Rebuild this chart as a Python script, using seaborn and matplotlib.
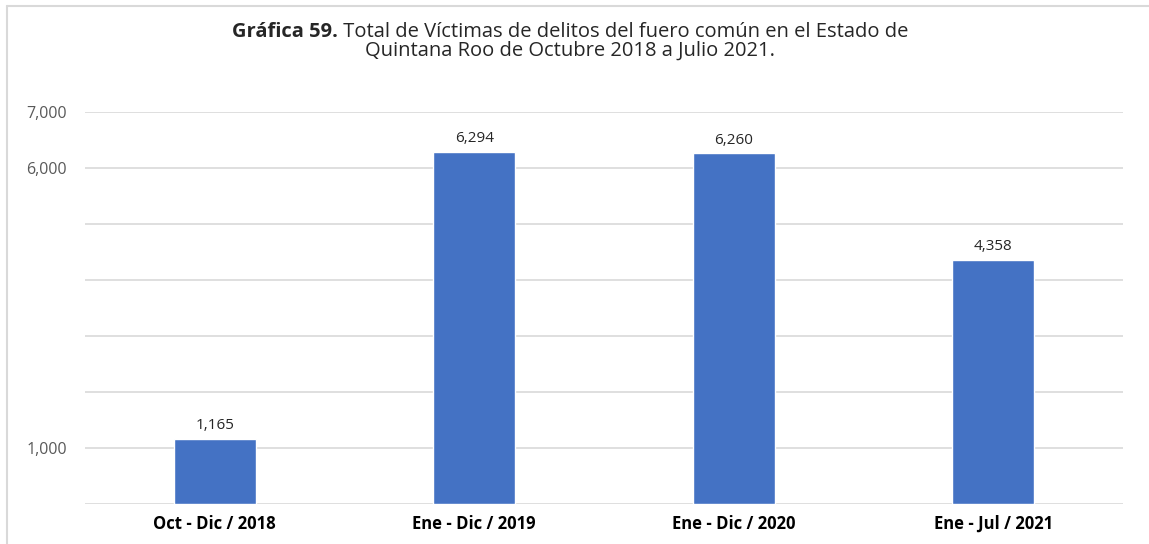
import matplotlib
matplotlib.use("Agg")
import matplotlib.pyplot as plt
import matplotlib.lines as mlines
import seaborn as sns
import pandas as pd

# data
periodos = ["Oct - Dic / 2018", "Ene - Dic / 2019", "Ene - Dic / 2020", "Ene - Jul / 2021"]
victimas = [1165, 6294, 6260, 4358]
y_ticks = [0, 1000, 2000, 3000, 4000, 5000, 6000, 7000]
y_labels = ["", "1,000", "", "", "", "", "6,000", "7,000"]

df = pd.DataFrame({"periodo": periodos, "victimas": victimas})

sns.set_style("white")
plt.rcParams["font.family"] = ["Open Sans", "DejaVu Sans"]

W, H = 1149, 544
fig = plt.figure(figsize=(W / 100, H / 100), dpi=100)
ax = fig.add_axes([85 / W, 1 - 504 / H, (1123 - 85) / W, 392 / H])

sns.barplot(data=df, x="periodo", y="victimas", color="#4472C4", width=0.316,
            saturation=1, ax=ax)

ax.set_ylim(0, 7000)
ax.set_yticks(y_ticks)
ax.set_yticklabels(y_labels, color="#595959", fontsize=11.5)
ax.yaxis.grid(True, color="#D9D9D9", linewidth=1.2)
ax.set_axisbelow(True)
ax.tick_params(axis="y", length=0, pad=13)
ax.tick_params(axis="x", length=0, pad=8)
for lbl in ax.get_xticklabels():
    lbl.set_fontweight("bold")
    lbl.set_fontsize(12)
    lbl.set_color("black")
ax.set_xlabel("")
ax.set_ylabel("")
sns.despine(ax=ax, left=True, top=True, right=True, bottom=True)

for i, v in enumerate(victimas):
    ax.text(i, v + 100, f"{v:,}", ha="center", va="bottom", fontsize=11, color="#262626")

# title: bold lead-in + normal text, centred as one line
t_size = 14.5
cx = 570 / W
y1, y2 = 1 - 32 / H, 1 - 51 / H
t_bold = fig.text(0, y1, "Gráfica 59.", ha="left", va="center",
                  fontsize=t_size, fontweight="bold")
t_rest = fig.text(0, y1, " Total de Víctimas de delitos del fuero común en el Estado de",
                  ha="left", va="center", fontsize=t_size)
fig.canvas.draw()
r = fig.canvas.get_renderer()
wb = t_bold.get_window_extent(r).width / W
wr = t_rest.get_window_extent(r).width / W
x0 = cx - (wb + wr) / 2
t_bold.set_x(x0)
t_rest.set_x(x0 + wb)
fig.text(cx, y2, "Quintana Roo de Octubre 2018 a Julio 2021.", ha="center",
         va="center", fontsize=t_size)

# partial chart frame
fig.add_artist(mlines.Line2D([7 / W, 1], [1 - 6 / H, 1 - 6 / H],
                             color="#D9D9D9", linewidth=1.5, transform=fig.transFigure))
fig.add_artist(mlines.Line2D([7 / W, 7 / W], [0, 1 - 6 / H],
                             color="#D9D9D9", linewidth=1.5, transform=fig.transFigure))

fig.savefig("out.png", dpi=100)
